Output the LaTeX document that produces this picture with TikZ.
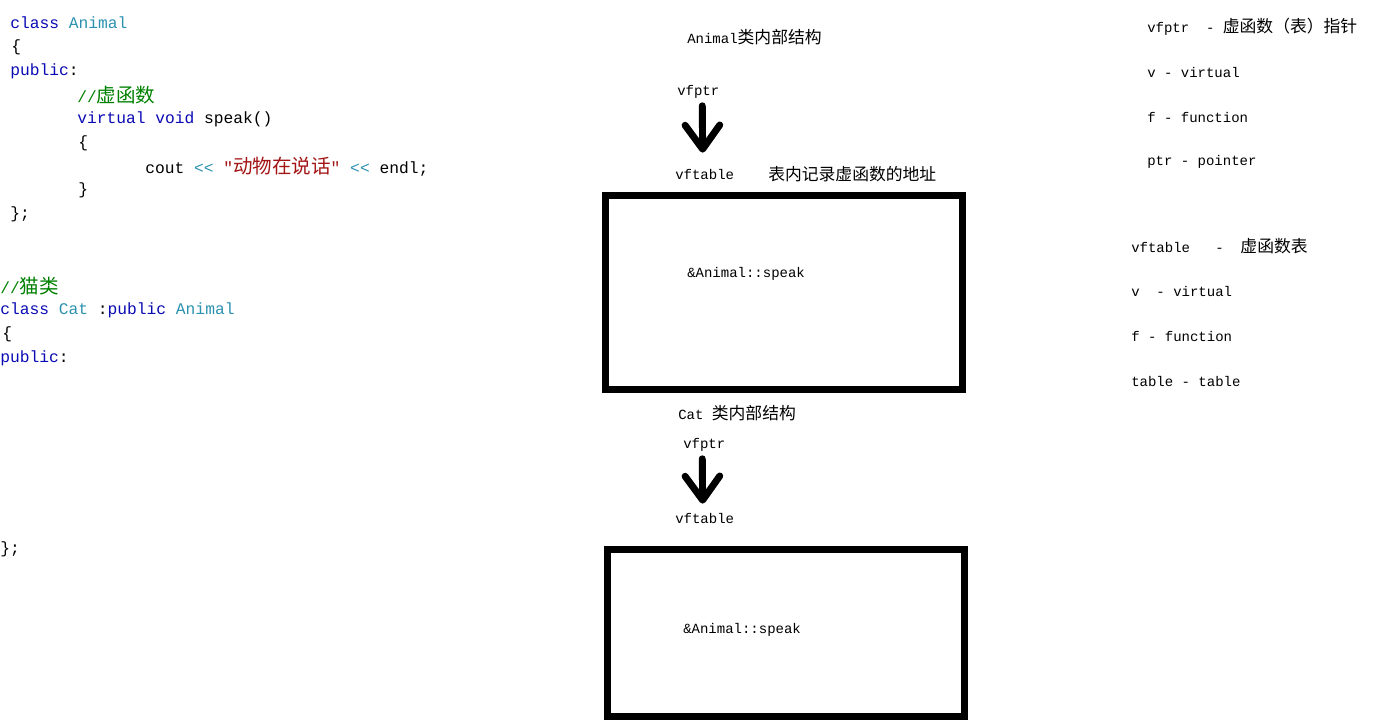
\documentclass[tikz,border=0pt]{standalone}
\usepackage{fontspec}
\setmonofont{Liberation Mono}
\newfontfamily\cjk{Noto Sans CJK SC}[Scale=1.2]
\usetikzlibrary{arrows.meta,calc}
\definecolor{kw}{RGB}{10,10,180}
\definecolor{ty}{RGB}{43,145,175}
\definecolor{cm}{RGB}{0,128,0}
\definecolor{st}{RGB}{163,21,21}
\newcommand\kwc[1]{\textcolor{kw}{#1}}
\newcommand\tyc[1]{\textcolor{ty}{#1}}
\newcommand\cmc[1]{\textcolor{cm}{#1}}
\newcommand\stc[1]{\textcolor{st}{#1}}
\tikzset{
  code/.style={anchor=west, inner sep=0pt, font=\fontsize{12.2}{14}\selectfont\ttfamily},
  lbl/.style={anchor=west, inner sep=0pt, font=\fontsize{10.5}{12}\selectfont\ttfamily},
  tablebox/.style={draw, line width=5.25pt, inner sep=0pt},
  bigarrow/.style={line width=5.2pt, line cap=round, line join=round,
    -{Straight Barb[round, length=18pt, width=26pt]}}
}
\begin{document}
\begin{tikzpicture}[x=0.75pt,y=-0.75pt]
\useasboundingbox (0,0) rectangle (1375,724);
% ---- code ----
\node[code] (c1) at (10,23) {\kwc{class} \tyc{Animal}};
\node[code] (c2) at (11,47) {\{};
\node[code] (c3) at (10,71) {\kwc{public}:};
\node[code] (c4) at (77,95) {\cmc{//{\cjk 虚函数}}};
\node[code] (c5) at (77,119) {\kwc{virtual} \kwc{void} speak()};
\node[code] (c6) at (78,143) {\{};
\node[code] (c7) at (145,167) {cout \tyc{<{}<} \stc{"{\cjk 动物在说话}"} \tyc{<{}<} endl;};
\node[code] (c8) at (78,190) {\}};
\node[code] (c9) at (10,214) {\};};
\node[code] (d1) at (0,286) {\cmc{//{\cjk 猫类}}};
\node[code] (d2) at (0,310) {\kwc{class} \tyc{Cat} :\kwc{public} \tyc{Animal}};
\node[code] (d3) at (2,334) {\{};
\node[code] (d4) at (0,358) {\kwc{public}:};
\node[code] (d5) at (0,549) {\};};
% ---- Animal structure ----
\node[lbl] (t1) at (687,37) {Animal{\cjk 类内部结构}};
\node[lbl] (p1) at (677,92) {vfptr};
\node[lbl] (v1) at (675,174) {vftable};
\node[lbl] (n1) at (768,174) {\cjk 表内记录虚函数的地址};
\node[tablebox, minimum width=267.75pt, minimum height=145.5pt] (box1) at (784,292.5) {};
\node[lbl] (s1) at (687,274) {\&Animal::speak};
\draw[bigarrow] ($(p1.south)+(4,7)$) -- ($(v1.north)+(-2,-16)$);
% ---- Cat structure ----
\node[lbl] (t2) at (678,413) {Cat {\cjk 类内部结构}};
\node[lbl] (p2) at (683,445) {vfptr};
\node[lbl] (v2) at (675,518) {vftable};
\node[tablebox, minimum width=267.4pt, minimum height=125.25pt] (box2) at (785.75,633) {};
\node[lbl] (s2) at (683,630) {\&Animal::speak};
\draw[bigarrow] ($(p2.south)+(-2,7)$) -- ($(v2.north)+(-2,-9)$);
% ---- legend ----
\node[lbl] (r1) at (1147,27) {vfptr\ \ - {\cjk 虚函数（表）指针}};
\node[lbl] (r2) at (1147,72) {v - virtual};
\node[lbl] (r3) at (1147,117) {f - function};
\node[lbl] (r4) at (1147,162) {ptr - pointer};
\node[lbl] (q1) at (1131,246) {vftable\ \ \ -\ \ {\cjk 虚函数表}};
\node[lbl] (q2) at (1131,291) {v\ \ - virtual};
\node[lbl] (q3) at (1131,336) {f - function};
\node[lbl] (q4) at (1131,381) {table - table};
\end{tikzpicture}
\end{document}
